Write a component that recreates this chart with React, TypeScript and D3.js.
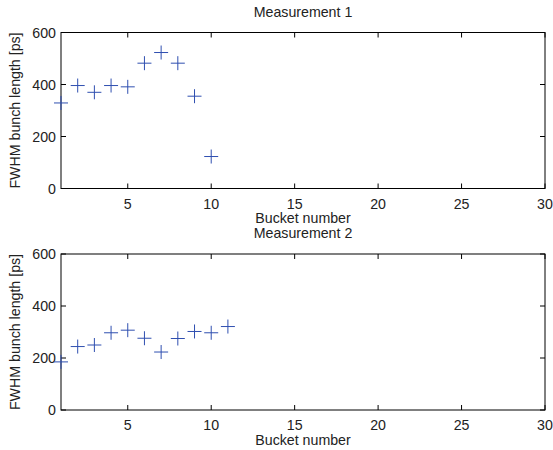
import React from "react";
import * as d3 from "d3";

const buckets1 = [1, 2, 3, 4, 5, 6, 7, 8, 9, 10];
const values1 = [329, 396, 370, 396, 391, 482, 523, 482, 355, 123];
const buckets2 = [1, 2, 3, 4, 5, 6, 7, 8, 9, 10, 11];
const values2 = [185, 244, 250, 297, 307, 276, 223, 275, 302, 297, 321];
const xTicks = [5, 10, 15, 20, 25, 30];
const yTicks = [0, 200, 400, 600];
const titles = ["Measurement 1", "Measurement 2"];
const xLabel = "Bucket number";
const yLabel = "FWHM bunch length [ps]";

const W = 553;
const H = 450;
const left = 61;
const right = 545;
const font = "'Liberation Sans', Arial, Helvetica, sans-serif";
const fs = 14.2;
const markerColor = "#2f4fb0";
const textColor = "#222";

function Panel({ top, bottom, xs, ys, title }: { top: number; bottom: number; xs: number[]; ys: number[]; title: string }) {
  const x = d3.scaleLinear().domain([1, 30]).range([left, right]);
  const y = d3.scaleLinear().domain([0, 600]).range([bottom, top]);
  const tl = 5;
  const ms = 7;
  return (
    <g>
      <text x={(left + right) / 2} y={top - 16} textAnchor="middle" fontSize={fs} fontFamily={font} fill={textColor}>
        {title}
      </text>
      <rect x={left} y={top} width={right - left} height={bottom - top} fill="#fff" stroke="#000" strokeWidth={1} />
      {xTicks.map((t) => (
        <g key={"x" + t}>
          <line x1={x(t)} x2={x(t)} y1={bottom} y2={bottom - tl} stroke="#000" />
          <line x1={x(t)} x2={x(t)} y1={top} y2={top + tl} stroke="#000" />
          <text x={x(t)} y={bottom + 20} textAnchor="middle" fontSize={fs} fontFamily={font} fill={textColor}>
            {t}
          </text>
        </g>
      ))}
      {yTicks.map((t) => (
        <g key={"y" + t}>
          <line x1={left} x2={left + tl} y1={y(t)} y2={y(t)} stroke="#000" />
          <line x1={right} x2={right - tl} y1={y(t)} y2={y(t)} stroke="#000" />
          <text x={left - 5} y={y(t) + 5} textAnchor="end" fontSize={fs} fontFamily={font} fill={textColor}>
            {t}
          </text>
        </g>
      ))}
      <text x={(left + right) / 2} y={bottom + 34.5} textAnchor="middle" fontSize={fs} fontFamily={font} fill={textColor}>
        {xLabel}
      </text>
      <text
        transform={`translate(20,${(top + bottom) / 2}) rotate(-90)`}
        textAnchor="middle"
        fontSize={fs}
        fontFamily={font}
        fill={textColor}
      >
        {yLabel}
      </text>
      {xs.map((b, i) => (
        <g key={"m" + i} stroke={markerColor} strokeWidth={1}>
          <line x1={x(b) - ms} x2={x(b) + ms} y1={y(ys[i])} y2={y(ys[i])} />
          <line x1={x(b)} x2={x(b)} y1={y(ys[i]) - ms} y2={y(ys[i]) + ms} />
        </g>
      ))}
    </g>
  );
}

export default function App() {
  return (
    <svg width={W} height={H} style={{ position: "absolute", left: 0, top: 0, background: "#fff" }}>
      <rect width={W} height={H} fill="#fff" />
      <Panel top={32.5} bottom={188.5} xs={buckets1} ys={values1} title={titles[0]} />
      <Panel top={254} bottom={410} xs={buckets2} ys={values2} title={titles[1]} />
    </svg>
  );
}
